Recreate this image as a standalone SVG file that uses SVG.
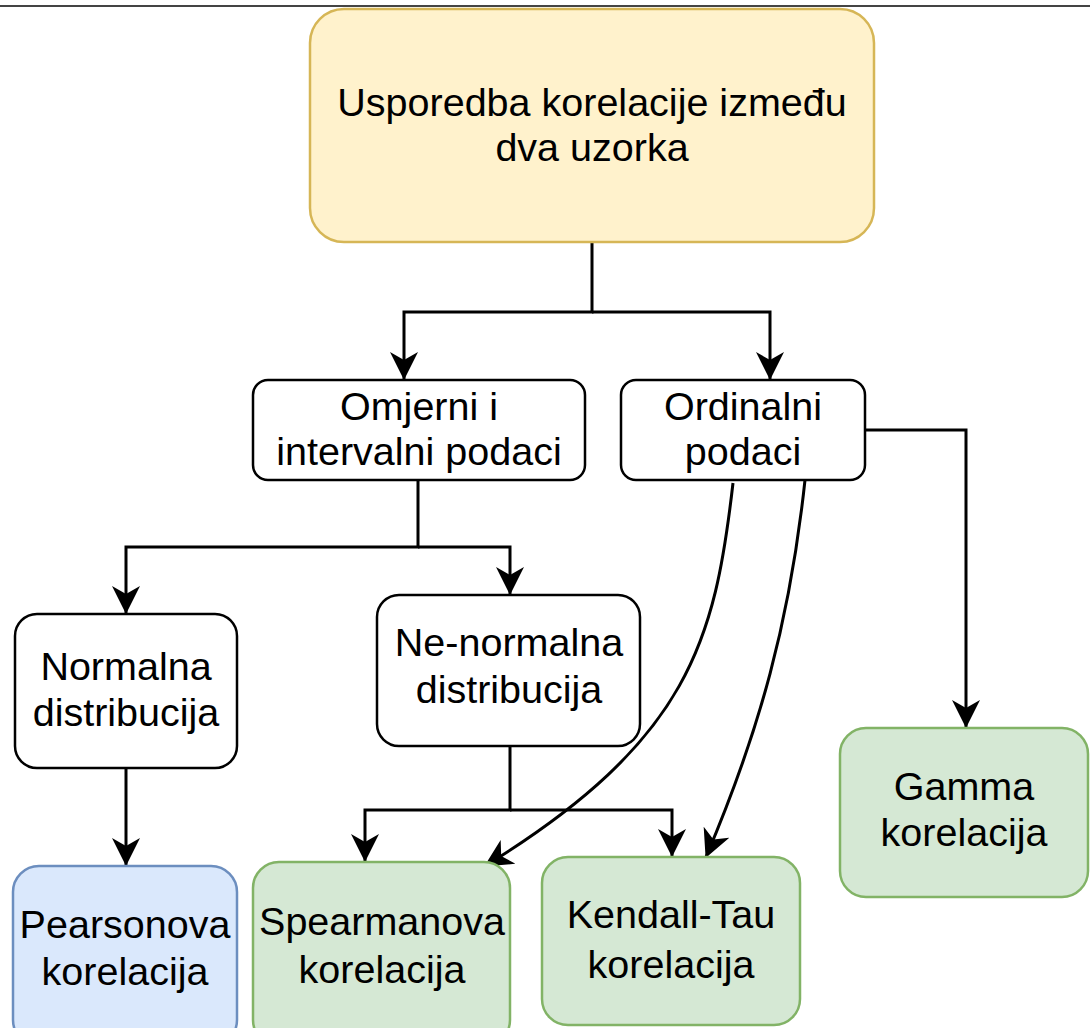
<svg xmlns="http://www.w3.org/2000/svg" width="1090" height="1028" viewBox="0 0 1090 1028">
<defs>
<style>
.box{stroke-width:2.5}
.plain{fill:#ffffff;stroke:#000000}
.yellow{fill:#fff2cc;stroke:#d6b656}
.blue{fill:#dae8fc;stroke:#6c8ebf}
.green{fill:#d5e8d4;stroke:#82b366}
.lbl{font-family:"Liberation Sans",Arial,sans-serif;font-size:39.5px;fill:#000000;text-anchor:middle}
.edge{fill:none;stroke:#000000;stroke-width:3}
</style>
<marker id="arr" viewBox="0 0 28 28" refX="27" refY="14" markerWidth="28" markerHeight="28" markerUnits="userSpaceOnUse" orient="auto">
<path d="M28,14 L0,0 L8,14 L0,28 Z" fill="#000000"/>
</marker>
</defs>
<rect width="1090" height="1028" fill="#ffffff"/>
<line x1="0" y1="6" x2="1090" y2="6" stroke="#444444" stroke-width="2"/>

<g id="connectors">
<path class="edge" d="M592,242 V312 H404 V379" marker-end="url(#arr)"/>
<path class="edge" d="M592,312 H770 V379" marker-end="url(#arr)"/>
<path class="edge" d="M418,480 V547 H126 V613" marker-end="url(#arr)"/>
<path class="edge" d="M418,547 H510 V594" marker-end="url(#arr)"/>
<path class="edge" d="M126,768 V865" marker-end="url(#arr)"/>
<path class="edge" d="M510,746 V810 H365 V861" marker-end="url(#arr)"/>
<path class="edge" d="M510,810 H672 V856" marker-end="url(#arr)"/>
<path class="edge" d="M865,430 H966 V727" marker-end="url(#arr)"/>
<path class="edge" d="M733,483 C715,640 690,740 485,866" marker-end="url(#arr)"/>
<path class="edge" d="M805,480 C790,620 760,730 706,857" marker-end="url(#arr)"/>
</g>

<g id="n-top">
<rect class="box yellow" x="310" y="9" width="564" height="233" rx="34"/>
<text class="lbl" x="592" y="116">Usporedba korelacije između</text>
<text class="lbl" x="592" y="161">dva uzorka</text>
</g>
<g id="n-omjerni">
<rect class="box plain" x="253" y="380" width="332" height="100" rx="15"/>
<text class="lbl" x="419" y="420">Omjerni i</text>
<text class="lbl" x="419" y="465">intervalni podaci</text>
</g>
<g id="n-ordinalni">
<rect class="box plain" x="621" y="380" width="244" height="100" rx="15"/>
<text class="lbl" x="743" y="420">Ordinalni</text>
<text class="lbl" x="743" y="465">podaci</text>
</g>
<g id="n-normalna">
<rect class="box plain" x="15" y="614" width="222" height="154" rx="22"/>
<text class="lbl" x="126" y="680">Normalna</text>
<text class="lbl" x="126" y="726">distribucija</text>
</g>
<g id="n-nenormalna">
<rect class="box plain" x="377" y="595" width="263" height="151" rx="22"/>
<text class="lbl" x="509" y="656">Ne-normalna</text>
<text class="lbl" x="509" y="703">distribucija</text>
</g>
<g id="n-pearson">
<rect class="box blue" x="13" y="866" width="224" height="180" rx="26"/>
<text class="lbl" x="125" y="938">Pearsonova</text>
<text class="lbl" x="125" y="985">korelacija</text>
</g>
<g id="n-spearman">
<rect class="box green" x="253" y="862" width="257" height="184" rx="26"/>
<text class="lbl" x="382" y="935">Spearmanova</text>
<text class="lbl" x="382" y="983">korelacija</text>
</g>
<g id="n-kendall">
<rect class="box green" x="542" y="857" width="258" height="168" rx="26"/>
<text class="lbl" x="671" y="928">Kendall-Tau</text>
<text class="lbl" x="671" y="978">korelacija</text>
</g>
<g id="n-gamma">
<rect class="box green" x="840" y="728" width="248" height="169" rx="26"/>
<text class="lbl" x="964" y="800">Gamma</text>
<text class="lbl" x="964" y="846">korelacija</text>
</g>
</svg>
